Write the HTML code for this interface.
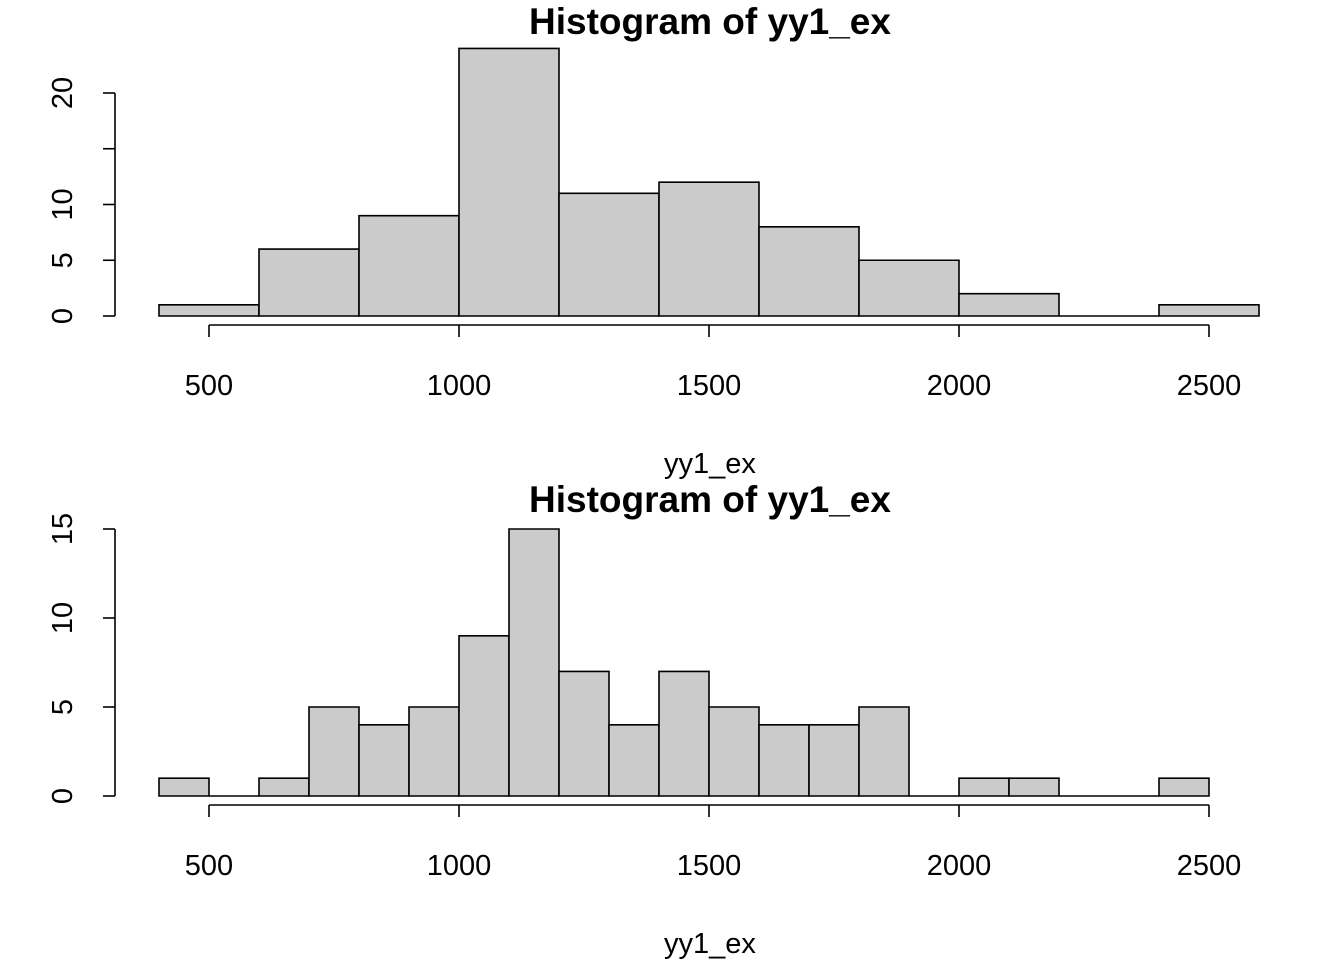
<!DOCTYPE html>
<html><head><meta charset="utf-8">
<style>
html,body{margin:0;padding:0;background:#fff;}
svg{display:block;font-family:"Liberation Sans",Arial,sans-serif;}
</style></head>
<body>
<svg id="chart" width="1344" height="960" viewBox="0 0 1344 960" xmlns="http://www.w3.org/2000/svg"></svg>
<script>
const topBreaks = [400,600,800,1000,1200,1400,1600,1800,2000,2200,2400,2600];
const topCounts = [1,6,9,24,11,12,8,5,2,0,1];
const topYTicks = [0,5,10,15,20];
const topYLabels = ["0","5","10","","20"];
const botBreaks = [400,500,600,700,800,900,1000,1100,1200,1300,1400,1500,1600,1700,1800,1900,2000,2100,2200,2300,2400,2500];
const botCounts = [1,0,1,5,4,5,9,15,7,4,7,5,4,4,5,0,1,1,0,0,1];
const botYTicks = [0,5,10,15];
const botYLabels = ["0","5","10","15"];
const xTicks = [500,1000,1500,2000,2500];
const xTickLabels = ["500","1000","1500","2000","2500"];

const NS = "http://www.w3.org/2000/svg";
const svg = document.getElementById("chart");
function mk(tag, attrs, parent){
  const e = document.createElementNS(NS, tag);
  for (const k in attrs) e.setAttribute(k, attrs[k]);
  (parent||svg).appendChild(e);
  return e;
}
const xs = v => 209 + (v - 500) * 0.5;

function panel(id, breaks, counts, yTicks, yLabels, y0, pxPerUnit, titleY, axisY, labelY, xlabY){
  const g = mk("g", {});
  
  
  const ys = v => y0 - v * pxPerUnit;
  const t = mk("text", {x:710, y:titleY, "text-anchor":"middle", "font-size":"37", "font-weight":"bold", fill:"#000"}, g);
  t.textContent = "Histogram of yy1_ex";
  
  
  for (let i = 0; i < counts.length; i++){
    const x1 = xs(breaks[i]), x2 = xs(breaks[i+1]), yt = ys(counts[i]);
    const r = mk("path", {d:`M${x1},${y0} L${x1},${yt} L${x2},${yt} L${x2},${y0} Z`, fill:"#cbcbcb", stroke:"#000", "stroke-width":"1.6"}, g);
    
    
  }
  const ya = mk("g", {}, g);
  
  
  mk("line", {x1:115, x2:115, y1:ys(yTicks[0]), y2:ys(yTicks[yTicks.length-1]), stroke:"#000", "stroke-width":"1.6"}, ya);
  yTicks.forEach((v,i)=>{
    mk("line", {x1:103, x2:115, y1:ys(v), y2:ys(v), stroke:"#000", "stroke-width":"1.6"}, ya);
    if (yLabels[i]){
      const tx = mk("text", {x:0, y:0, transform:`translate(72,${ys(v)}) rotate(-90)`, "text-anchor":"middle", "font-size":"29", fill:"#000"}, ya);
      tx.textContent = yLabels[i];
      
      
    }
  });
  const xa = mk("g", {}, g);
  
  
  mk("line", {x1:xs(xTicks[0]), x2:xs(xTicks[xTicks.length-1]), y1:axisY, y2:axisY, stroke:"#000", "stroke-width":"1.6"}, xa);
  xTicks.forEach((v,i)=>{
    mk("line", {x1:xs(v), x2:xs(v), y1:axisY, y2:axisY+12, stroke:"#000", "stroke-width":"1.6"}, xa);
    const tx = mk("text", {x:xs(v), y:labelY, "text-anchor":"middle", "font-size":"29", fill:"#000"}, xa);
    tx.textContent = xTickLabels[i];
    
    
  });
  const xl = mk("text", {x:710, y:xlabY, "text-anchor":"middle", "font-size":"29", fill:"#000"}, g);
  xl.textContent = "yy1_ex";
  
  
}
panel("top", topBreaks, topCounts, topYTicks, topYLabels, 316, 11.15, 34, 325, 395, 473);
panel("bottom", botBreaks, botCounts, botYTicks, botYLabels, 796, 17.8, 512, 805, 875, 953);
</script>
</body></html>
